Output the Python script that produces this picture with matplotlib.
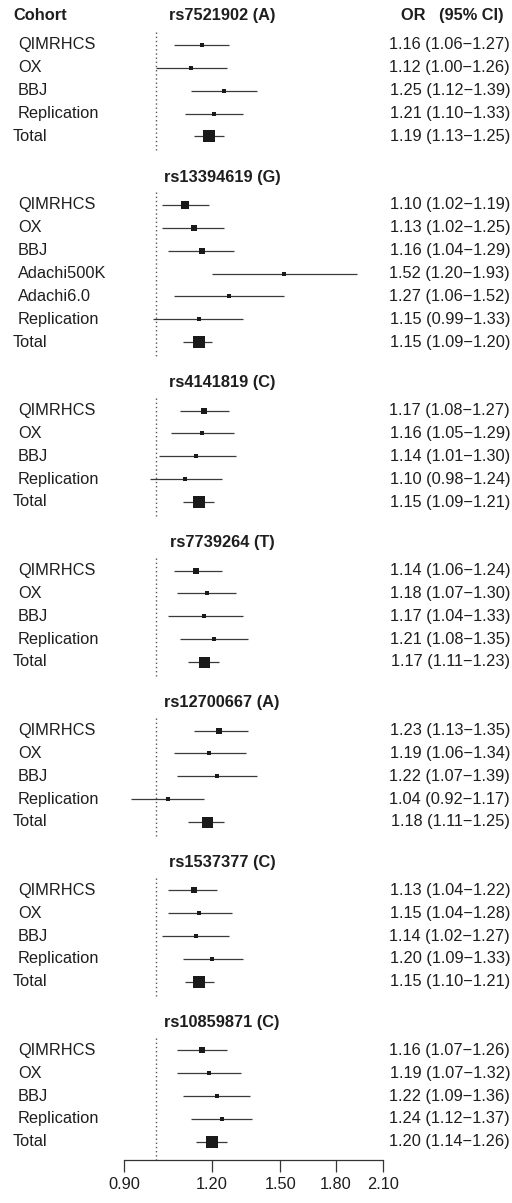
import matplotlib
matplotlib.use('Agg')
import matplotlib.pyplot as plt
from matplotlib.transforms import blended_transform_factory

plt.rcParams['font.family'] = ['Liberation Sans', 'DejaVu Sans']
plt.rcParams['font.size'] = 11.8

# Data
snp_labels = ["rs7521902 (A)", "rs13394619 (G)", "rs4141819 (C)", "rs7739264 (T)",
              "rs12700667 (A)", "rs1537377 (C)", "rs10859871 (C)"]
cohorts_std = ["QIMRHCS", "OX", "BBJ", "Replication", "Total"]
cohorts_g = ["QIMRHCS", "OX", "BBJ", "Adachi500K", "Adachi6.0", "Replication", "Total"]
cohorts = [cohorts_std, cohorts_g, cohorts_std, cohorts_std, cohorts_std, cohorts_std, cohorts_std]

odds_ratio = [[1.16, 1.12, 1.25, 1.21, 1.19],
              [1.10, 1.13, 1.16, 1.52, 1.27, 1.15, 1.15],
              [1.17, 1.16, 1.14, 1.10, 1.15],
              [1.14, 1.18, 1.17, 1.21, 1.17],
              [1.23, 1.19, 1.22, 1.04, 1.18],
              [1.13, 1.15, 1.14, 1.20, 1.15],
              [1.16, 1.19, 1.22, 1.24, 1.20]]
ci_low = [[1.06, 1.00, 1.12, 1.10, 1.13],
          [1.02, 1.02, 1.04, 1.20, 1.06, 0.99, 1.09],
          [1.08, 1.05, 1.01, 0.98, 1.09],
          [1.06, 1.07, 1.04, 1.08, 1.11],
          [1.13, 1.06, 1.07, 0.92, 1.11],
          [1.04, 1.04, 1.02, 1.09, 1.10],
          [1.07, 1.07, 1.09, 1.12, 1.14]]
ci_high = [[1.27, 1.26, 1.39, 1.33, 1.25],
           [1.19, 1.25, 1.29, 1.93, 1.52, 1.33, 1.20],
           [1.27, 1.29, 1.30, 1.24, 1.21],
           [1.24, 1.30, 1.33, 1.35, 1.23],
           [1.35, 1.34, 1.39, 1.17, 1.25],
           [1.22, 1.28, 1.27, 1.33, 1.21],
           [1.26, 1.32, 1.36, 1.37, 1.26]]
weights = [[5, 4, 4, 4.5, 12],
           [7.5, 6, 6, 3.5, 4, 4.5, 12],
           [6, 4.5, 3.5, 4, 11.5],
           [6, 5, 3.5, 4, 11],
           [6, 4, 4, 4, 11],
           [6, 4, 3.5, 4, 11.5],
           [6, 4.5, 4.5, 4.5, 11.5]]
xticks = [0.90, 1.20, 1.50, 1.80, 2.10]

# Layout (pixels)
W, H = 512, 1203
step = 22.85
first_px = 45
axis_px = 1160

fig = plt.figure(figsize=(W / 100, H / 100), dpi=100)
ax = fig.add_axes([124 / W, (H - axis_px) / H, (383 - 124) / W, axis_px / H])
ax.set_xscale('log')
ax.set_xlim(0.90, 2.10)
ax.set_ylim((axis_px - first_px) / step, -first_px / step)

tr = blended_transform_factory(fig.transFigure, ax.transData)
txt_col = '#1e1e1e'
line_col = '#3a3a3a'

cursor = 0
for s, snp in enumerate(snp_labels):
    n = len(cohorts[s])
    ys = [cursor + i for i in range(n)]
    # header
    hy = cursor - (1.31 if s == 0 else 1.22)
    ax.text(222 / W, hy, snp, transform=tr, ha='center', va='center',
            fontweight='bold', color=txt_col)
    if s == 0:
        ax.text(13 / W, hy, "Cohort", transform=tr, ha='left', va='center',
                fontweight='bold', color=txt_col)
        ax.text(504 / W, hy, "OR   (95% CI)", transform=tr, ha='right', va='center',
                fontweight='bold', color=txt_col)
    # reference line
    y_end = ax.get_ylim()[0] if s == len(snp_labels) - 1 else ys[-1] + 0.6
    ax.plot([1.0, 1.0], [ys[0] - 0.55, y_end], ls=(0, (1, 2)), color='#555555', lw=1.0)
    for i, name in enumerate(cohorts[s]):
        y = ys[i]
        ax.plot([ci_low[s][i], ci_high[s][i]], [y, y], color=line_col, lw=0.9,
                solid_capstyle='butt')
        ax.plot(odds_ratio[s][i], y, marker='s', ms=weights[s][i] * 0.72,
                color='#1a1a1a', mew=0)
        xl = 13 if name == "Total" else 18
        ax.text(xl / W, y, name, transform=tr, ha='left', va='center', color=txt_col)
        ax.text(510 / W, y,
                f"{odds_ratio[s][i]:.2f} ({ci_low[s][i]:.2f}\u2212{ci_high[s][i]:.2f})",
                transform=tr, ha='right', va='center', color=txt_col)
    cursor = ys[-1] + 3

for side in ['top', 'right', 'left']:
    ax.spines[side].set_visible(False)
ax.spines['bottom'].set_color('#333333')
ax.spines['bottom'].set_linewidth(0.9)
ax.set_yticks([])
ax.set_xticks(xticks)
ax.set_xticks([], minor=True)
ax.set_xticklabels([f"{t:.2f}" for t in xticks], color=txt_col)
ax.tick_params(axis='x', direction='out', length=8.5, width=0.9, color='#333333', pad=4)
ax.patch.set_alpha(0)

fig.savefig('out.png', dpi=100, facecolor='white')
